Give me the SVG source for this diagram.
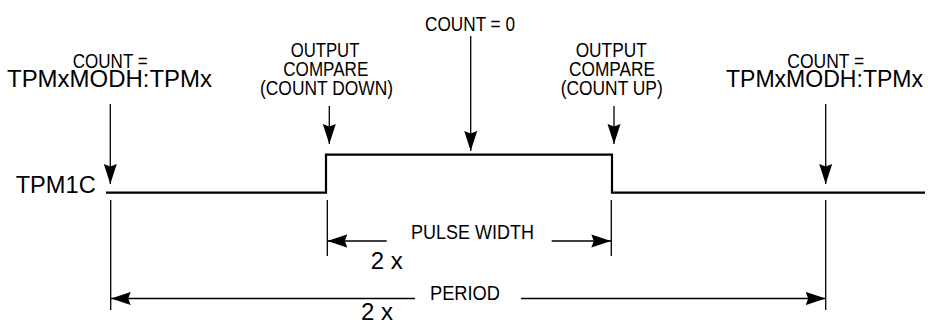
<svg xmlns="http://www.w3.org/2000/svg" width="928" height="322" viewBox="0 0 928 322">
<style>
text { font-family: "Liberation Sans", Arial, sans-serif; fill: #000; }
.c { font-size: 20px; }
.n { font-size: 24px; }
.thin { stroke: #000; stroke-width: 1.3; fill: none; }
.wave { stroke: #000; stroke-width: 2.2; fill: none; }
</style>
<defs>
<marker id="ah" markerUnits="userSpaceOnUse" markerWidth="20" markerHeight="14" refX="20" refY="7" orient="auto">
<path d="M0,0.5 L20,7 L0,13.5 L2.5,7 z" fill="#000"/>
</marker>
</defs>
<rect width="928" height="322" fill="#fff"/>

<g id="signal">
<text class="n" x="15.7" y="192.7" textLength="80" lengthAdjust="spacingAndGlyphs">TPM1C</text>
<path class="wave" d="M106,192.7 H326 V154.7 H612 V192.7 H925"/>
</g>

<g id="label-start">
<text class="c" x="72.7" y="67.7" textLength="75" lengthAdjust="spacingAndGlyphs">COUNT =</text>
<text class="n" x="7" y="87" textLength="205" lengthAdjust="spacingAndGlyphs">TPMxMODH:TPMx</text>
</g>

<g id="label-down">
<text class="c" x="290.7" y="56.7" textLength="68.7" lengthAdjust="spacingAndGlyphs">OUTPUT</text>
<text class="c" x="283.3" y="76" textLength="85" lengthAdjust="spacingAndGlyphs">COMPARE</text>
<text class="c" x="260" y="95" textLength="133" lengthAdjust="spacingAndGlyphs">(COUNT DOWN)</text>
</g>

<g id="label-zero">
<text class="c" x="425" y="30.7" textLength="90" lengthAdjust="spacingAndGlyphs">COUNT = 0</text>
</g>

<g id="label-up">
<text class="c" x="575.7" y="56.7" textLength="71" lengthAdjust="spacingAndGlyphs">OUTPUT</text>
<text class="c" x="569" y="76" textLength="86" lengthAdjust="spacingAndGlyphs">COMPARE</text>
<text class="c" x="560.7" y="95" textLength="102" lengthAdjust="spacingAndGlyphs">(COUNT UP)</text>
</g>

<g id="label-end">
<text class="c" x="787.3" y="67.7" textLength="77" lengthAdjust="spacingAndGlyphs">COUNT =</text>
<text class="n" x="726" y="87" textLength="197" lengthAdjust="spacingAndGlyphs">TPMxMODH:TPMx</text>
</g>

<g id="label-pulse">
<text class="c" x="411" y="239" textLength="123" lengthAdjust="spacingAndGlyphs">PULSE WIDTH</text>
<text class="n" x="370.7" y="269">2 x</text>
</g>

<g id="label-period">
<text class="c" x="430" y="300" textLength="70" lengthAdjust="spacingAndGlyphs">PERIOD</text>
<text class="n" x="361" y="320">2 x</text>
</g>

<g id="connectors">
<line class="thin" x1="110.3" y1="104" x2="110.3" y2="184" marker-end="url(#ah)"/>
<line class="thin" x1="329.3" y1="106" x2="329.3" y2="144" marker-end="url(#ah)"/>
<line class="thin" x1="470.7" y1="36" x2="470.7" y2="151" marker-end="url(#ah)"/>
<line class="thin" x1="614" y1="106" x2="614" y2="144" marker-end="url(#ah)"/>
<line class="thin" x1="825.7" y1="104" x2="825.7" y2="184" marker-end="url(#ah)"/>

<line class="thin" x1="110.7" y1="200" x2="110.7" y2="310"/>
<line class="thin" x1="327.3" y1="200" x2="327.3" y2="256"/>
<line class="thin" x1="611.3" y1="200" x2="611.3" y2="256"/>
<line class="thin" x1="825.7" y1="200" x2="825.7" y2="310"/>

<line class="thin" x1="386.7" y1="241" x2="327.3" y2="241" marker-end="url(#ah)"/>
<line class="thin" x1="551.7" y1="241" x2="611.3" y2="241" marker-end="url(#ah)"/>
<line class="thin" x1="415" y1="298.5" x2="110.7" y2="298.5" marker-end="url(#ah)"/>
<line class="thin" x1="521" y1="298.5" x2="825.7" y2="298.5" marker-end="url(#ah)"/>
</g>
</svg>
